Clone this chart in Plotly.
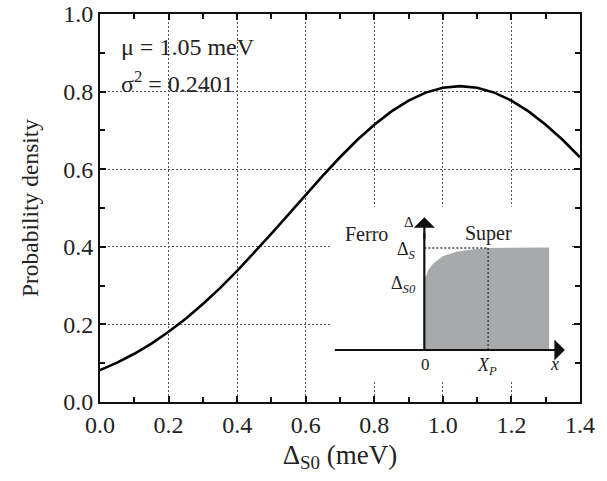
import plotly.graph_objects as go

# Main curve (probability density vs Delta_S0)
x_vals = [0.0, 0.05, 0.1, 0.15, 0.2, 0.25, 0.3, 0.35, 0.4, 0.45, 0.5, 0.55, 0.6, 0.65, 0.7,
          0.75, 0.8, 0.85, 0.9, 0.95, 1.0, 1.05, 1.1, 1.15, 1.2, 1.25, 1.3, 1.35, 1.4]
y_vals = [0.082, 0.1015, 0.1243, 0.1507, 0.1809, 0.2148, 0.2524, 0.2935, 0.3378, 0.3847,
          0.4337, 0.4838, 0.5341, 0.5835, 0.6308, 0.6751, 0.7148, 0.7491, 0.7769, 0.7974,
          0.8100, 0.8142, 0.8100, 0.7974, 0.7769, 0.7491, 0.7148, 0.6751, 0.6308]

# Inset sketch (in main data coordinates)
inset_fill_x = [0.948, 0.948, 0.951, 0.957, 0.972, 1.001, 1.040, 1.089, 1.132, 1.310, 1.310, 0.948]
inset_fill_y = [0.134, 0.323, 0.323, 0.340, 0.357, 0.376, 0.387, 0.394, 0.397, 0.398, 0.134, 0.134]
inset_haxis_x = [0.685, 1.356]
inset_haxis_y = [0.134, 0.134]
inset_vaxis_x = [0.946, 0.946]
inset_vaxis_y = [0.134, 0.476]
xp_line_x = [1.132, 1.132]
xp_line_y = [0.134, 0.397]
ds_line_x = [0.946, 1.132]
ds_line_y = [0.397, 0.397]
inset_box = [0.677, 1.37, 0.056, 0.503]

FONT = "Liberation Serif"

fig = go.Figure()

fig.add_trace(go.Scatter(x=x_vals, y=y_vals, mode="lines",
                         line=dict(color="black", width=2.6), hoverinfo="skip", showlegend=False))

# grey region
fig.add_trace(go.Scatter(x=inset_fill_x, y=inset_fill_y, mode="lines", fill="toself",
                         fillcolor="#a8a9ab", line=dict(width=0, color="#a8a9ab"),
                         showlegend=False, hoverinfo="skip"))
# dotted guides
fig.add_trace(go.Scatter(x=xp_line_x, y=xp_line_y, mode="lines",
                         line=dict(color="#444", width=1.5, dash="2px,2px"), showlegend=False))
fig.add_trace(go.Scatter(x=ds_line_x, y=ds_line_y, mode="lines",
                         line=dict(color="#444", width=1.5, dash="2px,2px"), showlegend=False))
# inset axes
fig.add_trace(go.Scatter(x=inset_haxis_x[:1] + [inset_haxis_x[1] - 0.04], y=inset_haxis_y, mode="lines",
                         line=dict(color="#111", width=2.2), showlegend=False))
fig.add_trace(go.Scatter(x=inset_vaxis_x, y=[inset_vaxis_y[0], inset_vaxis_y[1] - 0.04], mode="lines",
                         line=dict(color="#111", width=2.2), showlegend=False))

# arrowheads
fig.add_annotation(x=inset_haxis_x[1], y=inset_haxis_y[1], ax=inset_haxis_x[1] - 0.06, ay=inset_haxis_y[1],
                   axref="x", ayref="y", xref="x", yref="y", text="", showarrow=True,
                   arrowhead=1, arrowsize=1.6, arrowwidth=2.2, arrowcolor="#111")
fig.add_annotation(x=inset_vaxis_x[1], y=inset_vaxis_y[1], ax=inset_vaxis_x[1], ay=inset_vaxis_y[1] - 0.06,
                   axref="x", ayref="y", xref="x", yref="y", text="", showarrow=True,
                   arrowhead=1, arrowsize=1.6, arrowwidth=2.2, arrowcolor="#111")

# white background of inset (above gridlines, below traces)
fig.add_shape(type="rect", x0=inset_box[0], x1=inset_box[1], y0=inset_box[2], y1=inset_box[3],
              xref="x", yref="y", fillcolor="white", line=dict(width=0), layer="between")

def txt(x, y, s, size=17, xanchor="center"):
    fig.add_annotation(x=x, y=y, xref="x", yref="y", text=s, showarrow=False,
                       font=dict(family=FONT, size=size, color="#222"), xanchor=xanchor, yanchor="middle")

txt(0.777, 0.434, "Ferro", 20)
txt(1.134, 0.434, "Super", 20)
txt(0.902, 0.464, "Δ", 15)
txt(0.893, 0.390, "Δ<sub><i>S</i></sub>", 18)
txt(0.885, 0.303, "Δ<sub><i>S0</i></sub>", 18)
txt(0.948, 0.097, "0", 17)
txt(1.130, 0.092, "<i>X</i><sub><i>P</i></sub>", 18)
txt(1.326, 0.097, "<i>x</i>", 18)

txt(0.055, 0.915, "μ = 1.05 meV", 24, "left")
txt(0.055, 0.826, "σ<sup>2</sup> = 0.2401", 24, "left")

axis_common = dict(
    showline=True, linecolor="#111", linewidth=2, mirror="ticks",
    ticks="inside", ticklen=6, tickwidth=1.6, tickcolor="#111",
    showgrid=True, gridcolor="#555", gridwidth=1, griddash="2px,2px",
    zeroline=False,
    tickfont=dict(family=FONT, size=24, color="#222"),
)

fig.update_xaxes(range=[0, 1.4], dtick=0.2, tick0=0, tickformat=".1f",
                 minor=dict(dtick=0.1, ticks="inside", ticklen=5, tickwidth=1.6, tickcolor="#111", showgrid=False),
                 title=dict(text="Δ<sub>S0</sub> (meV)", font=dict(family=FONT, size=27, color="#222"), standoff=8),
                 **axis_common)
fig.update_yaxes(range=[0, 1.0], dtick=0.2, tick0=0, tickformat=".1f",
                 minor=dict(dtick=0.1, ticks="inside", ticklen=5, tickwidth=1.6, tickcolor="#111", showgrid=False),
                 title=dict(text="Probability density", font=dict(family=FONT, size=23.5, color="#222"), standoff=18),
                 **axis_common)

fig.update_layout(width=607, height=481,
                  margin=dict(l=100, r=27, t=14, b=79, autoexpand=False),
                  paper_bgcolor="white", plot_bgcolor="white", showlegend=False)

fig.write_html("out.html")
